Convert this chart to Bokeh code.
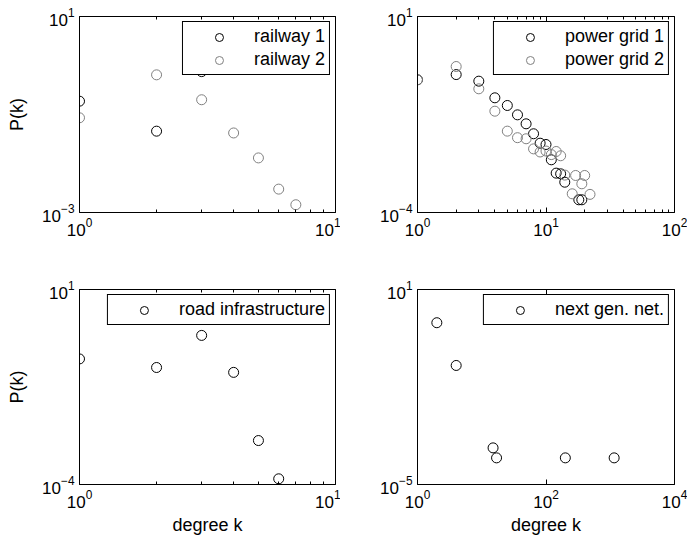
from bokeh.plotting import figure
from bokeh.layouts import column, row
from bokeh.models import FixedTicker, LogAxis, LogTickFormatter, CustomJSTickFormatter
from bokeh.embed import file_html
from bokeh.resources import INLINE

FONT = "Liberation Sans"
GRAY = "#808080"

# ---- data ----
railway1_k = [1, 2, 3]
railway1_p = [0.187, 0.0457, 0.75]
railway2_k = [1, 2, 3, 4, 5, 6, 7]
railway2_p = [0.0857, 0.645, 0.2, 0.042, 0.013, 0.0030, 0.00144]

power1_k = [1, 2, 3, 4, 5, 6, 7, 8, 9, 10, 11, 12, 13, 14, 18, 19]
power1_p = [0.243, 0.33, 0.224, 0.0843, 0.0537, 0.031, 0.0183, 0.0102, 0.00586,
            0.00543, 0.00221, 0.00101, 0.00097, 0.000593, 0.000211, 0.000211]
power2_k = [1, 2, 3, 4, 5, 6, 7, 8, 9, 10, 11, 12, 13, 14, 16, 17, 19, 20, 22]
power2_p = [0.243, 0.53, 0.143, 0.0384, 0.0119, 0.0081, 0.0076, 0.0042, 0.0035,
            0.0037, 0.0030, 0.0036, 0.0028, 0.0009, 0.0003, 0.00088, 0.00054,
            0.00088, 0.00029]

road_k = [1, 2, 3, 4, 5, 6]
road_p = [0.166, 0.1, 0.665, 0.075, 0.00134, 0.00014]

nextgen_k = [2, 4, 15, 17, 200, 1150]
nextgen_p = [0.95, 0.046, 0.000134, 0.000066, 0.000066, 0.000066]

# axis limits and ticks
tl_x = (1, 10); tl_y = (1e-3, 1e1)
tr_x = (1, 100); tr_y = (1e-4, 1e1)
bl_x = (1, 10); bl_y = (1e-4, 1e1)
br_x = (1, 1e4); br_y = (1e-5, 1e1)

tl_xt = [1, 10]
tr_xt = [1, 10, 100]
bl_xt = [1, 10]
br_xt = [1, 100, 10000]
minor_1dec = [2, 3, 4, 5, 6, 7, 8, 9]
minor_2dec = [2, 3, 4, 5, 6, 7, 8, 9, 20, 30, 40, 50, 60, 70, 80, 90]

TICK_FS = "17px"
LABEL_FS = "18px"


def make_fig(width, height, xr, yr, xt, xminor, borders, xlabel, ylabel):
    left, right, top, bottom = borders
    p = figure(width=width, height=height, x_axis_type="log", y_axis_type="log",
               x_range=xr, y_range=yr, output_backend="svg", toolbar_location=None,
               min_border_left=left, min_border_right=right,
               min_border_top=top, min_border_bottom=bottom)
    p.xgrid.visible = False
    p.ygrid.visible = False
    p.outline_line_color = "black"
    p.outline_line_width = 1
    p.outline_line_alpha = 1
    p.background_fill_color = "white"
    p.border_fill_color = "white"

    xa = p.xaxis[0]
    xa.ticker = FixedTicker(ticks=xt, minor_ticks=xminor)
    xa.formatter = LogTickFormatter()
    xa.major_tick_in = 5
    xa.major_tick_out = 0
    xa.minor_tick_in = 3
    xa.minor_tick_out = 0
    xa.major_tick_line_color = "black"
    xa.minor_tick_line_color = "black"
    xa.axis_line_color = "black"
    xa.major_label_text_font = FONT
    xa.major_label_text_font_size = TICK_FS
    xa.major_label_text_color = "black"
    xa.major_label_standoff = 5
    if xlabel:
        xa.axis_label = xlabel
        xa.axis_label_text_font = FONT
        xa.axis_label_text_font_size = LABEL_FS
        xa.axis_label_text_font_style = "normal"
        xa.axis_label_text_color = "black"
        xa.axis_label_standoff = 4

    ya = p.yaxis[0]
    ya.ticker = FixedTicker(ticks=[yr[0], yr[1]])
    ya.formatter = LogTickFormatter()
    ya.major_tick_in = 0
    ya.major_tick_out = 0
    ya.minor_tick_in = 0
    ya.minor_tick_out = 0
    ya.axis_line_color = "black"
    ya.major_label_text_font = FONT
    ya.major_label_text_font_size = TICK_FS
    ya.major_label_text_color = "black"
    ya.major_label_standoff = 5
    if ylabel:
        ya.axis_label = ylabel
        ya.axis_label_text_font = FONT
        ya.axis_label_text_font_size = LABEL_FS
        ya.axis_label_text_font_style = "normal"
        ya.axis_label_text_color = "black"
        ya.axis_label_standoff = 12

    top_ax = LogAxis(ticker=FixedTicker(ticks=xt, minor_ticks=xminor),
                     formatter=CustomJSTickFormatter(code="return ' '"),
                     major_tick_in=5, major_tick_out=0,
                     minor_tick_in=3, minor_tick_out=0,
                     major_label_text_font_size="2px", major_label_text_alpha=0,
                     major_label_standoff=0,
                     axis_line_color="black")
    p.add_layout(top_ax, "above")
    return p


def style_legend(p):
    lg = p.legend[0]
    lg.location = "top_right"
    lg.margin = 5
    lg.padding = 4
    lg.spacing = 2
    lg.glyph_height = 20
    lg.glyph_width = 64
    lg.label_standoff = 3
    lg.label_text_font = FONT
    lg.label_text_font_size = LABEL_FS
    lg.label_text_color = "black"
    lg.border_line_color = "black"
    lg.border_line_width = 1
    lg.border_line_alpha = 1
    lg.background_fill_color = "white"
    lg.background_fill_alpha = 1


MS = 10

p1 = make_fig(340, 250, tl_x, tl_y, tl_xt, minor_1dec, (79, 5, 16, 38), None, "P(k)")
p1.scatter(railway1_k, railway1_p, marker="circle", size=MS, fill_color=None,
           line_color="black", line_width=1, legend_label="railway 1")
p1.scatter(railway2_k, railway2_p, marker="circle", size=MS, fill_color=None,
           line_color=GRAY, line_width=1, legend_label="railway 2")
style_legend(p1)

p2 = make_fig(347, 250, tr_x, tr_y, tr_xt, minor_2dec, (77, 13, 16, 38), None, None)
p2.scatter(power1_k, power1_p, marker="circle", size=MS, fill_color=None,
           line_color="black", line_width=1, legend_label="power grid 1")
p2.scatter(power2_k, power2_p, marker="circle", size=MS, fill_color=None,
           line_color=GRAY, line_width=1, legend_label="power grid 2")
style_legend(p2)

p3 = make_fig(340, 293, bl_x, bl_y, bl_xt, minor_1dec, (79, 5, 39, 59), "degree k", "P(k)")
p3.scatter(road_k, road_p, marker="circle", size=MS, fill_color=None,
           line_color="black", line_width=1, legend_label="road infrastructure")
style_legend(p3)

p4 = make_fig(347, 293, br_x, br_y, br_xt, [], (77, 13, 39, 59), "degree k", None)
p4.scatter(nextgen_k, nextgen_p, marker="circle", size=MS, fill_color=None,
           line_color="black", line_width=1, legend_label="next gen. net.")
style_legend(p4)

layout = column(row(p1, p2), row(p3, p4))
open("out.html", "w").write(file_html(layout, INLINE))
